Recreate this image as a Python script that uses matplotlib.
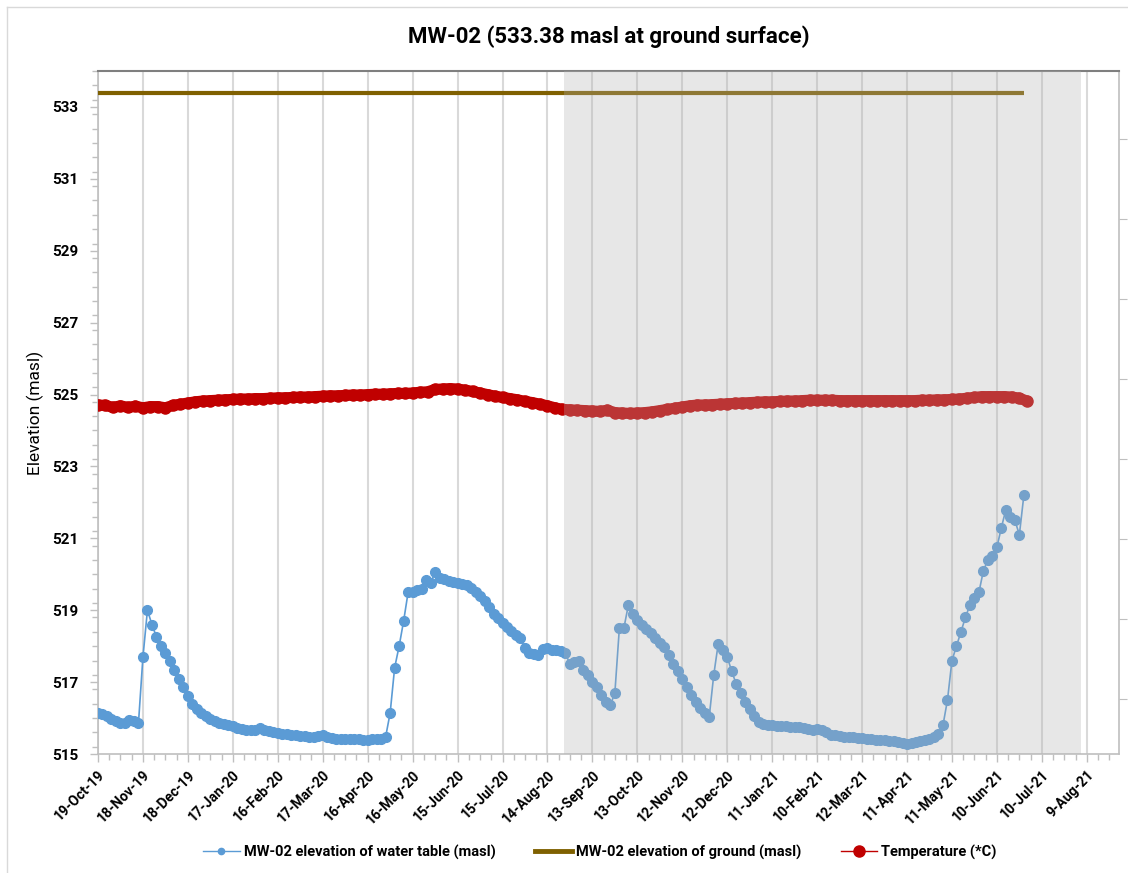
# -*- coding: utf-8 -*-
# MW-02 water table / ground / temperature chart

import pandas as pd
import numpy as np
import matplotlib
matplotlib.use('Agg')
import matplotlib.pyplot as plt
import matplotlib.dates as mdates
from matplotlib.lines import Line2D
from matplotlib.ticker import MultipleLocator, FixedLocator, NullFormatter

plt.rcParams['font.family'] = ['Roboto', 'DejaVu Sans']

# water table elevation (masl), one reading every 3 days from 19-Oct-19
water_start = '2019-10-19'
water_table = [
    516.15, 516.10, 516.05, 515.98, 515.92, 515.85, 515.86, 515.95, 515.92, 515.85,
    517.70, 519.00, 518.60, 518.26, 518.00, 517.80, 517.60, 517.35, 517.10, 516.85,
    516.60, 516.40, 516.25, 516.15, 516.05, 515.98, 515.92, 515.87, 515.83, 515.80,
    515.77, 515.73, 515.70, 515.67, 515.66, 515.66, 515.72, 515.67, 515.64, 515.62,
    515.58, 515.57, 515.55, 515.53, 515.52, 515.50, 515.50, 515.48, 515.47, 515.50,
    515.52, 515.48, 515.45, 515.43, 515.42, 515.42, 515.43, 515.42, 515.41, 515.40,
    515.40, 515.41, 515.42, 515.43, 515.48, 516.14, 517.40, 518.00, 518.70, 519.50,
    519.52, 519.55, 519.60, 519.85, 519.75, 520.06, 519.90, 519.88, 519.80, 519.78,
    519.76, 519.72, 519.70, 519.62, 519.52, 519.40, 519.25, 519.08, 518.90, 518.78,
    518.65, 518.52, 518.42, 518.32, 518.22, 517.95, 517.80, 517.78, 517.76, 517.92,
    517.95, 517.90, 517.88, 517.86, 517.80, 517.50, 517.55, 517.60, 517.35, 517.20,
    517.00, 516.85, 516.65, 516.45, 516.36, 516.70, 518.50, 518.50, 519.14, 518.90,
    518.72, 518.60, 518.48, 518.36, 518.22, 518.10, 517.98, 517.75, 517.50, 517.30,
    517.10, 516.87, 516.65, 516.45, 516.27, 516.15, 516.04, 517.20, 518.07, 517.90,
    517.70, 517.30, 516.95, 516.70, 516.45, 516.25, 516.05, 515.88, 515.84, 515.82,
    515.80, 515.79, 515.78, 515.77, 515.76, 515.75, 515.74, 515.72, 515.70, 515.68,
    515.70, 515.66, 515.60, 515.53, 515.52, 515.50, 515.48, 515.47, 515.46, 515.45,
    515.44, 515.43, 515.42, 515.40, 515.39, 515.38, 515.37, 515.35, 515.34, 515.30,
    515.28, 515.30, 515.34, 515.36, 515.40, 515.42, 515.48, 515.55, 515.80, 516.50,
    517.60, 518.00, 518.40, 518.80, 519.15, 519.35, 519.50, 520.10, 520.40, 520.50,
    520.75, 521.30, 521.80, 521.60, 521.50, 521.10, 522.20,
]

# ground surface elevation (masl)
ground_elev = 533.38

# temperature (deg C), one reading every 5 days from 19-Oct-19
temperature = [
    7.35, 7.34, 7.29, 7.33, 7.29, 7.32, 7.28, 7.31, 7.31, 7.28,
    7.34, 7.37, 7.40, 7.43, 7.45, 7.46, 7.47, 7.48, 7.49, 7.50,
    7.50, 7.51, 7.51, 7.52, 7.53, 7.53, 7.54, 7.55, 7.55, 7.56,
    7.57, 7.58, 7.58, 7.59, 7.60, 7.60, 7.61, 7.62, 7.62, 7.63,
    7.64, 7.64, 7.65, 7.67, 7.68, 7.74, 7.75, 7.76, 7.75, 7.72,
    7.69, 7.65, 7.61, 7.57, 7.54, 7.51, 7.48, 7.44, 7.41, 7.37,
    7.33, 7.28, 7.24, 7.23, 7.22, 7.21, 7.20, 7.19, 7.22, 7.16,
    7.15, 7.14, 7.15, 7.16, 7.18, 7.21, 7.24, 7.27, 7.30, 7.33,
    7.35, 7.35, 7.36, 7.37, 7.38, 7.39, 7.40, 7.41, 7.42, 7.43,
    7.43, 7.44, 7.45, 7.45, 7.46, 7.47, 7.47, 7.47, 7.47, 7.46,
    7.46, 7.46, 7.46, 7.46, 7.46, 7.46, 7.46, 7.46, 7.46, 7.46,
    7.47, 7.47, 7.48, 7.48, 7.49, 7.50, 7.52, 7.54, 7.56, 7.56,
    7.56, 7.56, 7.55, 7.52, 7.45,
]

# shaded period
shade_start = '2020-08-25'
shade_end = '2021-08-05'

water_dates = pd.date_range(water_start, periods=len(water_table), freq='3D')
temp_dates = pd.date_range(water_start, periods=len(temperature), freq='5D')
ground_dates = [water_dates[0], water_dates[-1]]
ground_vals = [ground_elev, ground_elev]

c_water = '#5B9BD5'
c_ground = '#7F6000'
c_temp = '#C00000'

fig = plt.figure(figsize=(11.28, 8.73), dpi=100)
ax = fig.add_axes([98/1128, 1 - 754/873, (1119 - 98)/1128, (754 - 71)/873])

ax.plot(water_dates, water_table, color=c_water, lw=1.2, marker='o', ms=7,
        mec=c_water, mfc=c_water, zorder=3)
ax.plot(ground_dates, ground_vals, color=c_ground, lw=3, solid_capstyle='butt', zorder=3)

ax.set_ylim(515, 534)
ax.yaxis.set_major_locator(FixedLocator([515, 517, 519, 521, 523, 525, 527, 529, 531, 533]))
ax.yaxis.set_minor_locator(MultipleLocator(0.4))
x0 = pd.Timestamp(water_start)
ax.set_xlim(x0, x0 + pd.Timedelta(days=681.5))
major_days = [x0 + pd.Timedelta(days=30 * i) for i in range(23)]
minor_days = [x0 + pd.Timedelta(days=7.5 * i) for i in range(91)]
ax.xaxis.set_major_locator(FixedLocator(mdates.date2num(major_days)))
ax.xaxis.set_minor_locator(FixedLocator(mdates.date2num(minor_days)))
ax.set_xticklabels([d.strftime('%d-%b-%y').lstrip('0') for d in major_days],
                   rotation=45, ha='right', rotation_mode='anchor',
                   fontsize=10, fontweight='bold')
for t in ax.get_yticklabels():
    t.set_fontweight('bold')
    t.set_fontsize(11)

ax.grid(axis='x', which='major', color='#D9D9D9', lw=1.5, zorder=0)
ax.set_axisbelow(True)
ax.tick_params(axis='both', which='major', length=6, color='#BFBFBF', width=1, pad=4)
ax.tick_params(axis='both', which='minor', length=4, color='#BFBFBF', width=1)
ax.tick_params(axis='y', pad=8)

for s in ['left', 'bottom', 'right']:
    ax.spines[s].set_color('#BFBFBF')
    ax.spines[s].set_linewidth(1.2)
ax.spines['top'].set_color('#7F7F7F')
ax.spines['top'].set_linewidth(1.5)

ax.set_ylabel('Elevation (masl)', fontsize=12.5, labelpad=6)
ax.set_title('MW-02 (533.38 masl at ground surface)', fontsize=16,
             fontweight='bold', pad=20)

# temperature on a secondary axis (no labels shown)
ax2 = ax.twinx()
ax2.plot(temp_dates, temperature, color=c_temp, lw=8, marker='o', ms=8,
         solid_capstyle='round', solid_joinstyle='round', zorder=3)
ax2.set_ylim(-1.375, 15.7)
ax2.yaxis.set_major_locator(FixedLocator(list(range(0, 15, 2))))
ax2.yaxis.set_major_formatter(NullFormatter())
ax2.tick_params(axis='y', length=6, color='#BFBFBF')
for s in ax2.spines.values():
    s.set_visible(False)

# grey overlay for the shaded period (drawn on top, semi transparent)
ax2.axvspan(pd.Timestamp(shade_start), pd.Timestamp(shade_end),
            color='#B2B2B2', alpha=0.3, lw=0, zorder=5)

handles = [
    Line2D([], [], color=c_water, lw=1, marker='o', ms=4.5),
    Line2D([], [], color=c_ground, lw=3.5),
    Line2D([], [], color=c_temp, lw=1, marker='o', ms=8),
]
labels = ['MW-02 elevation of water table (masl)',
          'MW-02 elevation of ground (masl)',
          'Temperature (*C)']
fig.legend(handles, labels, loc='center', bbox_to_anchor=(600/1128, 1 - 852/873),
           ncol=3, frameon=False, handlelength=2.5, handletextpad=0.3,
           columnspacing=2.7, prop={'size': 10.5, 'weight': 'bold'})

# light chart frame
fig.add_artist(Line2D([7/1128, 7/1128], [0, 1 - 7/873], color='#D9D9D9', lw=1,
                      transform=fig.transFigure))
fig.add_artist(Line2D([7/1128, 1], [1 - 7/873, 1 - 7/873], color='#D9D9D9', lw=1,
                      transform=fig.transFigure))

fig.savefig('out.png', dpi=100)
